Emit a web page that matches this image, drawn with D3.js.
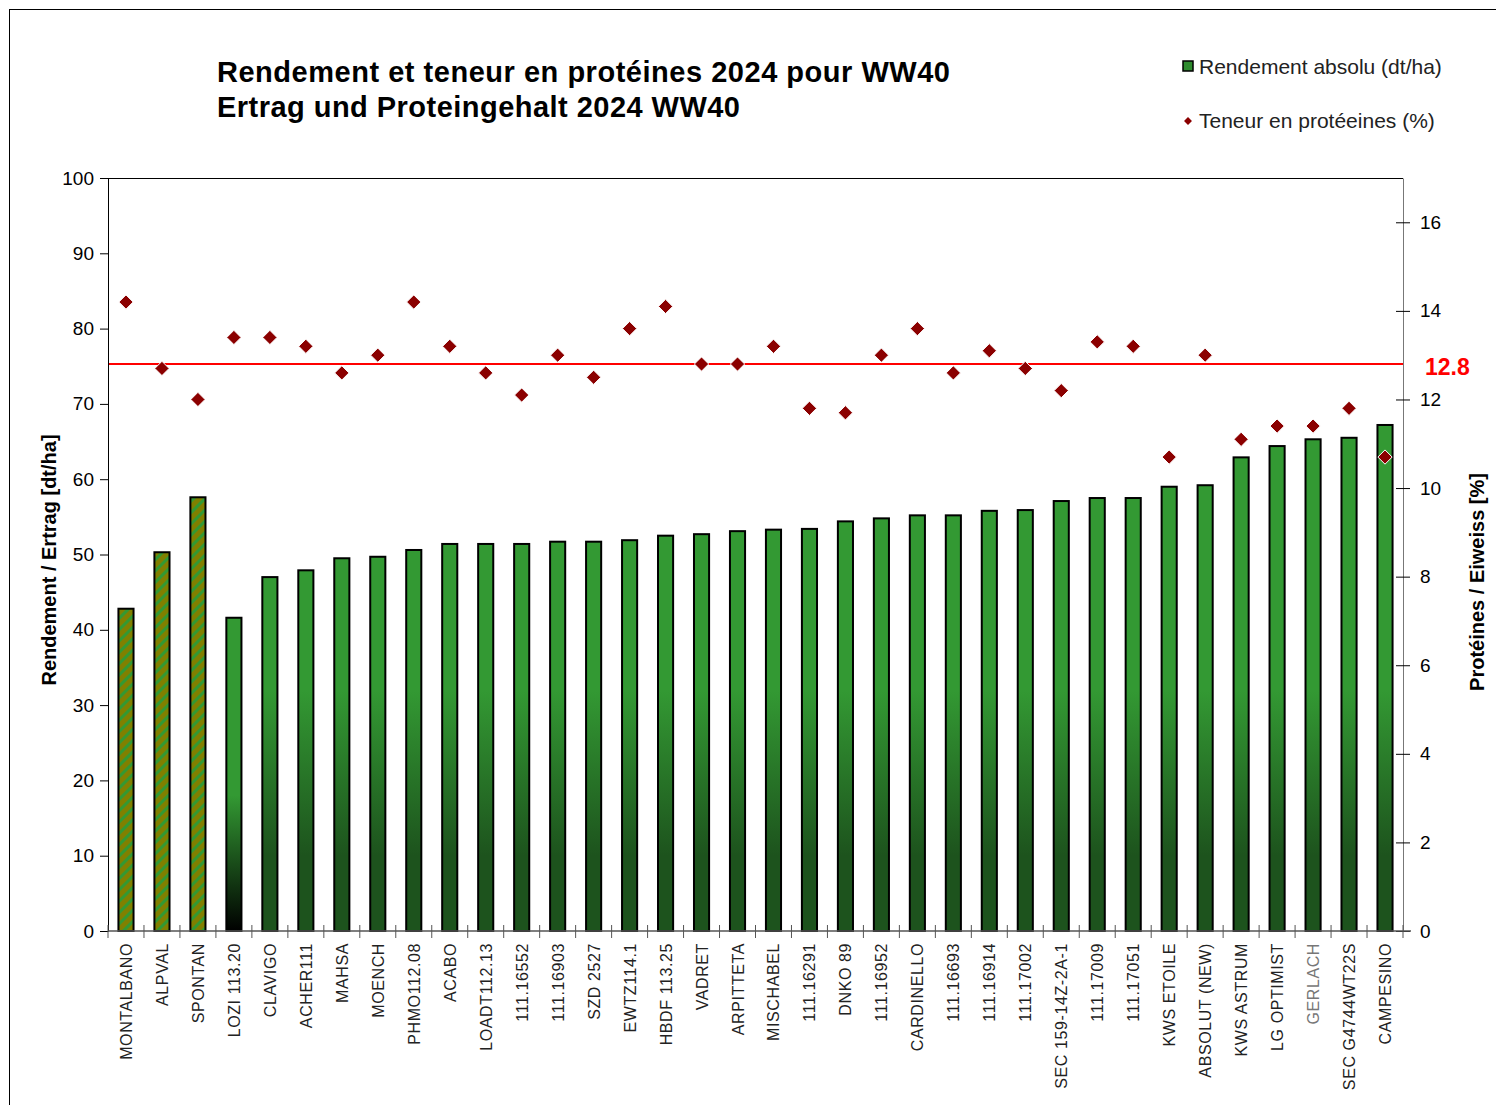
<!DOCTYPE html>
<html>
<head>
  <meta charset="utf-8">
  <script src="https://d3js.org/d3.v7.min.js"></script>
  <style>
    body { margin: 0; background: #fff; }
    svg { font-family: "Liberation Sans", Arial, sans-serif; }
  </style>
</head>
<body>
  <svg width="1496" height="1105"></svg>
  <script>
    // Data
    var varieties = ["MONTALBANO", "ALPVAL", "SPONTAN", "LOZI 113.20", "CLAVIGO", "ACHER111", "MAHSA", "MOENCH",
      "PHMO112.08", "ACABO", "LOADT112.13", "111.16552", "111.16903", "SZD 2527", "EWTZ114.1", "HBDF 113.25",
      "VADRET", "ARPITTETA", "MISCHABEL", "111.16291", "DNKO 89", "111.16952", "CARDINELLO", "111.16693",
      "111.16914", "111.17002", "SEC 159-14Z-2A-1", "111.17009", "111.17051", "KWS ETOILE", "ABSOLUT (NEW)",
      "KWS ASTRUM", "LG OPTIMIST", "GERLACH", "SEC G4744WT22S", "CAMPESINO"];
    var yieldVals = [42.8, 50.3, 57.6, 41.6, 47.0, 47.9, 49.5, 49.7, 50.6, 51.4, 51.4, 51.4, 51.7, 51.7, 51.9, 52.5,
      52.7, 53.1, 53.3, 53.4, 54.4, 54.8, 55.2, 55.2, 55.8, 55.9, 57.1, 57.5, 57.5, 59.0, 59.2,
      62.9, 64.4, 65.3, 65.5, 67.2];
    var proteinVals = [14.2, 12.7, 12.0, 13.4, 13.4, 13.2, 12.6, 13.0, 14.2, 13.2, 12.6, 12.1, 13.0, 12.5, 13.6, 14.1,
      12.8, 12.8, 13.2, 11.8, 11.7, 13.0, 13.6, 12.6, 13.1, 12.7, 12.2, 13.3, 13.2, 10.7, 13.0,
      11.1, 11.4, 11.4, 11.8, 10.7];
    var hatched = ["MONTALBANO", "ALPVAL", "SPONTAN"];   // olive/green striped bars
    var blackFade = ["LOZI 113.20"];                     // bar fading to black
    var proteinMean = 12.8;
    var yTicks = [0, 10, 20, 30, 40, 50, 60, 70, 80, 90, 100];
    var pTicks = [0, 2, 4, 6, 8, 10, 12, 14, 16];

    var svg = d3.select("svg");
    var mLeft = 108, mRight = 1403, mTop = 178, mBottom = 931;

    // outer frame
    svg.append("rect").attr("x", 9.5).attr("y", 9.5).attr("width", 1500).attr("height", 1110)
      .attr("fill", "none").attr("stroke", "#000").attr("stroke-width", 1);

    var defs = svg.append("defs");
    var pat = defs.append("pattern").attr("id", "hatch").attr("patternUnits", "userSpaceOnUse")
      .attr("width", 8).attr("height", 8).attr("patternTransform", "rotate(-45)");
    pat.append("rect").attr("width", 8).attr("height", 8).attr("fill", "#808000");
    pat.append("rect").attr("width", 8).attr("height", 3).attr("fill", "#339933");

    var x = d3.scaleBand().domain(varieties).range([mLeft, mRight]).paddingInner(0.58).paddingOuter(0.29);
    var y = d3.scaleLinear().domain([0, 100]).range([mBottom, mTop]);
    var yp = d3.scaleLinear().domain([0, 17]).range([mBottom, mTop]);

    var g1 = defs.append("linearGradient").attr("id", "fadeGreen").attr("gradientUnits", "userSpaceOnUse")
      .attr("x1", 0).attr("x2", 0).attr("y1", y(32)).attr("y2", y(10));
    g1.append("stop").attr("offset", 0).attr("stop-color", "#339933");
    g1.append("stop").attr("offset", 1).attr("stop-color", "#1d531d");
    var g2 = defs.append("linearGradient").attr("id", "fadeBlack").attr("gradientUnits", "userSpaceOnUse")
      .attr("x1", 0).attr("x2", 0).attr("y1", y(18)).attr("y2", y(0));
    g2.append("stop").attr("offset", 0).attr("stop-color", "#339933");
    g2.append("stop").attr("offset", 1).attr("stop-color", "#000000");

    // plot frame top line
    svg.append("line").attr("x1", mLeft).attr("x2", mRight).attr("y1", mTop + 0.5).attr("y2", mTop + 0.5)
      .attr("stroke", "#000").attr("stroke-width", 1);

    // bars
    var rows = varieties.map(function(v, i) { return { name: v, yv: yieldVals[i], pv: proteinVals[i] }; });
    svg.selectAll(".bar").data(rows).enter().append("rect")
      .attr("class", "bar")
      .attr("x", function(d) { return x(d.name); })
      .attr("width", x.bandwidth())
      .attr("y", function(d) { return y(d.yv); })
      .attr("height", function(d) { return y(0) - y(d.yv); })
      .attr("fill", function(d) {
        if (hatched.indexOf(d.name) >= 0) return "url(#hatch)";
        if (blackFade.indexOf(d.name) >= 0) return "url(#fadeBlack)";
        return "url(#fadeGreen)";
      })
      .attr("stroke", "#000").attr("stroke-width", 2);

    // mean line
    svg.append("line").attr("x1", mLeft).attr("x2", mRight).attr("y1", yp(proteinMean)).attr("y2", yp(proteinMean))
      .attr("stroke", "#ff0000").attr("stroke-width", 2);
    svg.append("text").attr("x", 1425).attr("y", yp(proteinMean) + 11)
      .attr("fill", "#ff0000").attr("font-weight", "bold").attr("font-size", 23).text(proteinMean.toFixed(1));

    // protein diamonds
    var diamond = d3.symbol().type(d3.symbolDiamond2).size(130);
    svg.selectAll(".pt").data(rows).enter().append("path")
      .attr("class", "pt")
      .attr("d", diamond)
      .attr("transform", function(d) { return "translate(" + (x(d.name) + x.bandwidth() / 2) + "," + yp(d.pv) + ")"; })
      .attr("fill", "#8b0000").attr("stroke", "#fff").attr("stroke-width", 1);

    // left axis
    var ax = svg.append("g").attr("transform", "translate(" + mLeft + ",0)")
      .call(d3.axisLeft(y).tickValues(yTicks).tickSize(8).tickPadding(6));
    ax.selectAll("text").attr("font-size", 19).attr("fill", "#000").attr("font-family", "Liberation Sans, Arial");
    ax.select(".domain").attr("stroke", "#000");

    // right axis
    var ar = svg.append("g").attr("transform", "translate(" + mRight + ",0)")
      .call(d3.axisRight(yp).tickValues(pTicks).tickSize(7).tickPadding(10).tickSizeOuter(0));
    ar.selectAll(".tick line").attr("x1", -7);
    ar.selectAll("text").attr("font-size", 19).attr("fill", "#000").attr("font-family", "Liberation Sans, Arial");
    ar.select(".domain").attr("stroke", "#777");

    // bottom axis: ticks at band boundaries, crossing the axis line
    svg.append("line").attr("x1", mLeft).attr("x2", mRight + 8).attr("y1", mBottom).attr("y2", mBottom)
      .attr("stroke", "#555").attr("stroke-width", 1.5);
    var step = x.step();
    var bounds = d3.range(varieties.length + 1).map(function(i) { return mLeft + i * step; });
    svg.selectAll(".xtick").data(bounds).enter().append("line")
      .attr("x1", function(d) { return d; }).attr("x2", function(d) { return d; })
      .attr("y1", mBottom - 6).attr("y2", mBottom + 7).attr("stroke", "#555");
    svg.selectAll(".xlab").data(varieties).enter().append("text")
      .attr("transform", function(d) { return "translate(" + (x(d) + x.bandwidth() / 2 + 6) + "," + (mBottom + 12) + ") rotate(-90)"; })
      .attr("text-anchor", "end").attr("font-size", 16).attr("letter-spacing", 0.6)
      .attr("fill", function(d) { return d === "GERLACH" ? "#777" : "#222"; })
      .text(function(d) { return d; });

    // axis titles
    svg.append("text").attr("transform", "translate(56,560) rotate(-90)").attr("text-anchor", "middle")
      .attr("font-size", 20).attr("font-weight", "bold").text("Rendement / Ertrag [dt/ha]");
    svg.append("text").attr("transform", "translate(1484,582) rotate(-90)").attr("text-anchor", "middle")
      .attr("font-size", 20).attr("font-weight", "bold").text("Protéines / Eiweiss [%]");

    // title
    svg.append("text").attr("x", 217).attr("y", 82).attr("font-size", 29).attr("font-weight", "bold")
      .attr("textLength", 733).text("Rendement et teneur en protéines 2024 pour WW40");
    svg.append("text").attr("x", 217).attr("y", 117).attr("font-size", 29).attr("font-weight", "bold")
      .attr("textLength", 523).text("Ertrag und Proteingehalt 2024 WW40");

    // legend
    svg.append("rect").attr("x", 1183).attr("y", 61).attr("width", 10).attr("height", 10)
      .attr("fill", "#2e8b2e").attr("stroke", "#000").attr("stroke-width", 1.5);
    svg.append("text").attr("x", 1199).attr("y", 74).attr("font-size", 21).attr("fill", "#222")
      .text("Rendement absolu (dt/ha)");
    svg.append("path").attr("d", d3.symbol().type(d3.symbolDiamond2).size(40))
      .attr("transform", "translate(1188,121)").attr("fill", "#8b0000");
    svg.append("text").attr("x", 1199).attr("y", 128).attr("font-size", 21).attr("fill", "#222")
      .text("Teneur en protéeines (%)");
  </script>
</body>
</html>
